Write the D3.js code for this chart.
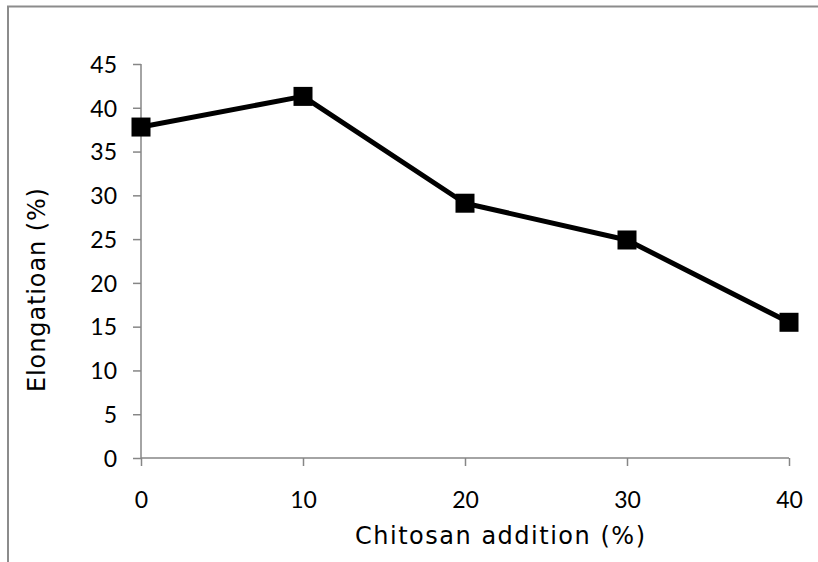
<!DOCTYPE html>
<html>
<head>
<meta charset="utf-8">
<script src="https://cdn.jsdelivr.net/npm/d3@7"></script>
<style>
  html, body { margin: 0; padding: 0; background: #ffffff; }
  svg { display: block; }
</style>
</head>
<body>
<svg id="chart" width="818" height="562"></svg>
<script>
const chitosan = [0, 10, 20, 30, 40];
const elongation = [37.8, 41.3, 29.1, 24.9, 15.5];
const yTicks = [0, 5, 10, 15, 20, 25, 30, 35, 40, 45];
const xTicks = [0, 10, 20, 30, 40];
const xTitle = "Chitosan addition (%)";
const yTitle = "Elongatioan (%)";

const svg = d3.select("#chart");
const axisColor = "#868686";

// outer frame (only left and top edges visible in the picture)
svg.append("rect")
  .attr("x", 8).attr("y", 6.5).attr("width", 900).attr("height", 700)
  .attr("fill", "none").attr("stroke", "#8c8c8c").attr("stroke-width", 2);

const x = d3.scaleLinear().domain([0, 40]).range([141, 789]);
const y = d3.scaleLinear().domain([0, 45]).range([458, 64]);

// Y axis
const yAxis = svg.append("g").attr("transform", `translate(${x(0)},0)`)
  .call(d3.axisLeft(y).tickValues(yTicks).tickSize(8).tickPadding(16).tickFormat(d3.format("d")));
yAxis.select(".domain").attr("stroke", axisColor).attr("stroke-width", 1.5).attr("d", `M0,${y(45)}V${y(0)}`);
yAxis.selectAll(".tick line").attr("stroke", axisColor).attr("stroke-width", 1.5);
yAxis.selectAll(".tick text").attr("fill", "#000").attr("font-family", "Lato, 'Open Sans', sans-serif")
  .attr("font-size", 23).attr("dy", "0.36em");

// X axis
const xAxis = svg.append("g").attr("transform", `translate(0,${y(0)})`)
  .call(d3.axisBottom(x).tickValues(xTicks).tickSize(8).tickPadding(34).tickFormat(d3.format("d")));
xAxis.select(".domain").attr("stroke", axisColor).attr("stroke-width", 1.5).attr("d", `M${x(0)},0H${x(40)}`);
xAxis.selectAll(".tick line").attr("stroke", axisColor).attr("stroke-width", 1.5);
xAxis.selectAll(".tick text").attr("fill", "#000").attr("font-family", "Lato, 'Open Sans', sans-serif")
  .attr("font-size", 23).attr("dy", "0.36em");

// line
const data = chitosan.map((c, i) => ({ c, v: elongation[i] }));
svg.append("path").datum(data)
  .attr("fill", "none").attr("stroke", "#000").attr("stroke-width", 5)
  .attr("stroke-linejoin", "round")
  .attr("d", d3.line().x(d => x(d.c)).y(d => y(d.v)));

const ms = 19;
svg.selectAll("rect.marker").data(data).enter().append("rect")
  .attr("class", "marker")
  .attr("x", d => x(d.c) - ms / 2).attr("y", d => y(d.v) - ms / 2)
  .attr("width", ms).attr("height", ms).attr("fill", "#000");

// titles
svg.append("text")
  .attr("x", 500).attr("y", 544)
  .attr("text-anchor", "middle")
  .attr("font-family", "'DejaVu Sans', sans-serif").attr("font-size", 24)
  .attr("fill", "#000")
  .attr("textLength", 290).attr("lengthAdjust", "spacing")
  .text(xTitle);

svg.append("text")
  .attr("transform", "translate(45,290) rotate(-90)")
  .attr("text-anchor", "middle")
  .attr("font-family", "'DejaVu Sans', sans-serif").attr("font-size", 24)
  .attr("fill", "#000")
  .attr("textLength", 204).attr("lengthAdjust", "spacing")
  .text(yTitle);
</script>
</body>
</html>
